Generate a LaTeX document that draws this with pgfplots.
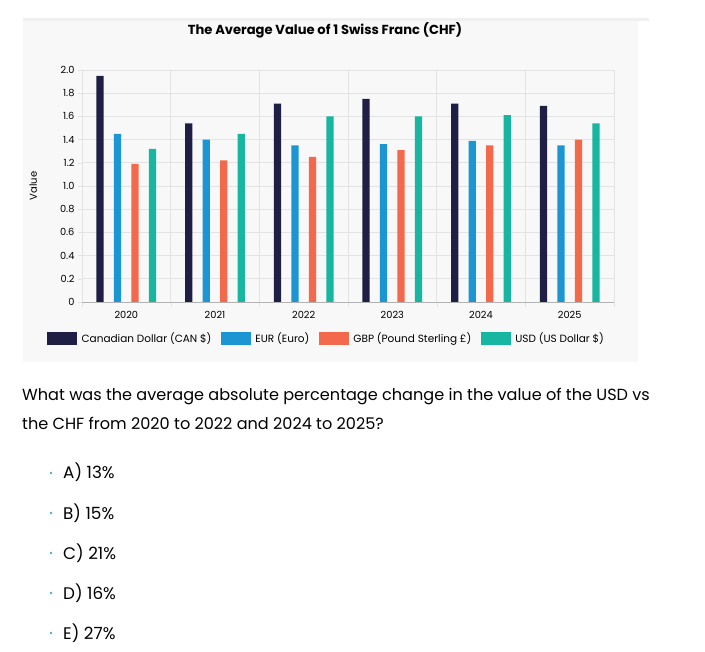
\documentclass[border=0pt]{standalone}
\usepackage{pgfplots}
\pgfplotsset{compat=1.18}
\usepackage{fontspec}
\setmainfont{Poppins}
\definecolor{cad}{HTML}{1F1F45}
\definecolor{eur}{HTML}{1B96D2}
\definecolor{gbp}{HTML}{F2694B}
\definecolor{usd}{HTML}{16B6A0}
\definecolor{panel}{HTML}{F8F8F8}
\definecolor{gridc}{HTML}{E3E3E3}
\definecolor{bullet}{HTML}{4AA8D0}
\begin{document}
\begin{tikzpicture}[x=1pt,y=1pt]
\fill[white] (0,0) rectangle (705,-652);
\fill[panel] (23,-20) rectangle (638,-362);
\fill[gray!12] (23,-18) rectangle (649,-21);
\node[anchor=base,font=\fontsize{13.1}{14}\selectfont\bfseries] at (325,-35) {The Average Value of 1 Swiss Franc (CHF)};
\begin{axis}[
  at={(82pt,-302pt)}, anchor=south west,
  scale only axis, width=532pt, height=232pt,
  xmin=-0.5, xmax=5.5, ymin=0, ymax=2.0,
  axis x line*=bottom, axis y line*=left,
  x axis line style={draw=gray!60, -},
  y axis line style={draw=none, -},
  xtick={0,1,2,3,4,5},
  xticklabels={2020,2021,2022,2023,2024,2025},
  minor xtick={-0.5,0.5,1.5,2.5,3.5,4.5,5.5},
  major x tick style={draw=none},
  minor x tick style={draw=gridc},
  minor tick length=5pt,
  tick align=outside,
  xminorgrids, minor grid style={draw=gridc, line width=0.6pt},
  ytick={0,0.2,0.4,0.6,0.8,1.0,1.2,1.4,1.6,1.8,2.0},
  yticklabels={0,0.2,0.4,0.6,0.8,1.0,1.2,1.4,1.6,1.8,2.0},
  ymajorgrids, major grid style={draw=gridc, line width=0.6pt},
  major y tick style={draw=gridc},
  major tick length=4pt,
  ticklabel style={font=\fontsize{9.8}{10}\selectfont},
  xticklabel style={yshift=-2pt},
  ylabel={Value},
  ylabel style={font=\fontsize{10}{10}\selectfont, at={(-0.078,0.5)}},
  ybar, bar width=7.3pt,
  legend columns=4,
  legend style={draw=none, fill=none, at={(-0.066,-0.128)}, anchor=north west,
    font=\fontsize{10.5}{11}\selectfont, inner sep=0pt,
    /tikz/every even column/.style={column sep=5pt},
    nodes={inner xsep=4.5pt, inner ysep=0pt}},
  legend image code/.code={\fill (0pt,-6.5pt) rectangle (30pt,6.5pt);},
]
\addplot[fill=cad, draw=none, bar shift=-26.25pt] coordinates {(0,1.95) (1,1.54) (2,1.71) (3,1.75) (4,1.71) (5,1.69)};
\addplot[fill=eur, draw=none, bar shift=-8.75pt] coordinates {(0,1.45) (1,1.40) (2,1.35) (3,1.36) (4,1.39) (5,1.35)};
\addplot[fill=gbp, draw=none, bar shift=8.75pt] coordinates {(0,1.19) (1,1.22) (2,1.25) (3,1.31) (4,1.35) (5,1.40)};
\addplot[fill=usd, draw=none, bar shift=26.25pt] coordinates {(0,1.32) (1,1.45) (2,1.60) (3,1.60) (4,1.61) (5,1.54)};
\legend{Canadian Dollar (CAN \$),EUR (Euro),GBP (Pound Sterling £),USD (US Dollar \$)}
\end{axis}
\begin{scope}[font=\fontsize{16.1}{18}\selectfont]
\node[anchor=base west, inner sep=0] at (22,-401) {What was the average absolute percentage change in the value of the USD vs};
\node[anchor=base west, inner sep=0] at (22,-430) {the CHF from 2020 to 2022 and 2024 to 2025?};
\end{scope}
\begin{scope}[font=\fontsize{16.8}{18}\selectfont]
\foreach \t [count=\i from 0] in {A) 13\%,B) 15\%,C) 21\%,D) 16\%,E) 27\%}{
  \fill[bullet] (51,-473-40*\i) circle (1.4);
  \node[anchor=base west, inner sep=0] at (63,-479-40*\i) {\t};
}
\end{scope}
\end{tikzpicture}
\end{document}
